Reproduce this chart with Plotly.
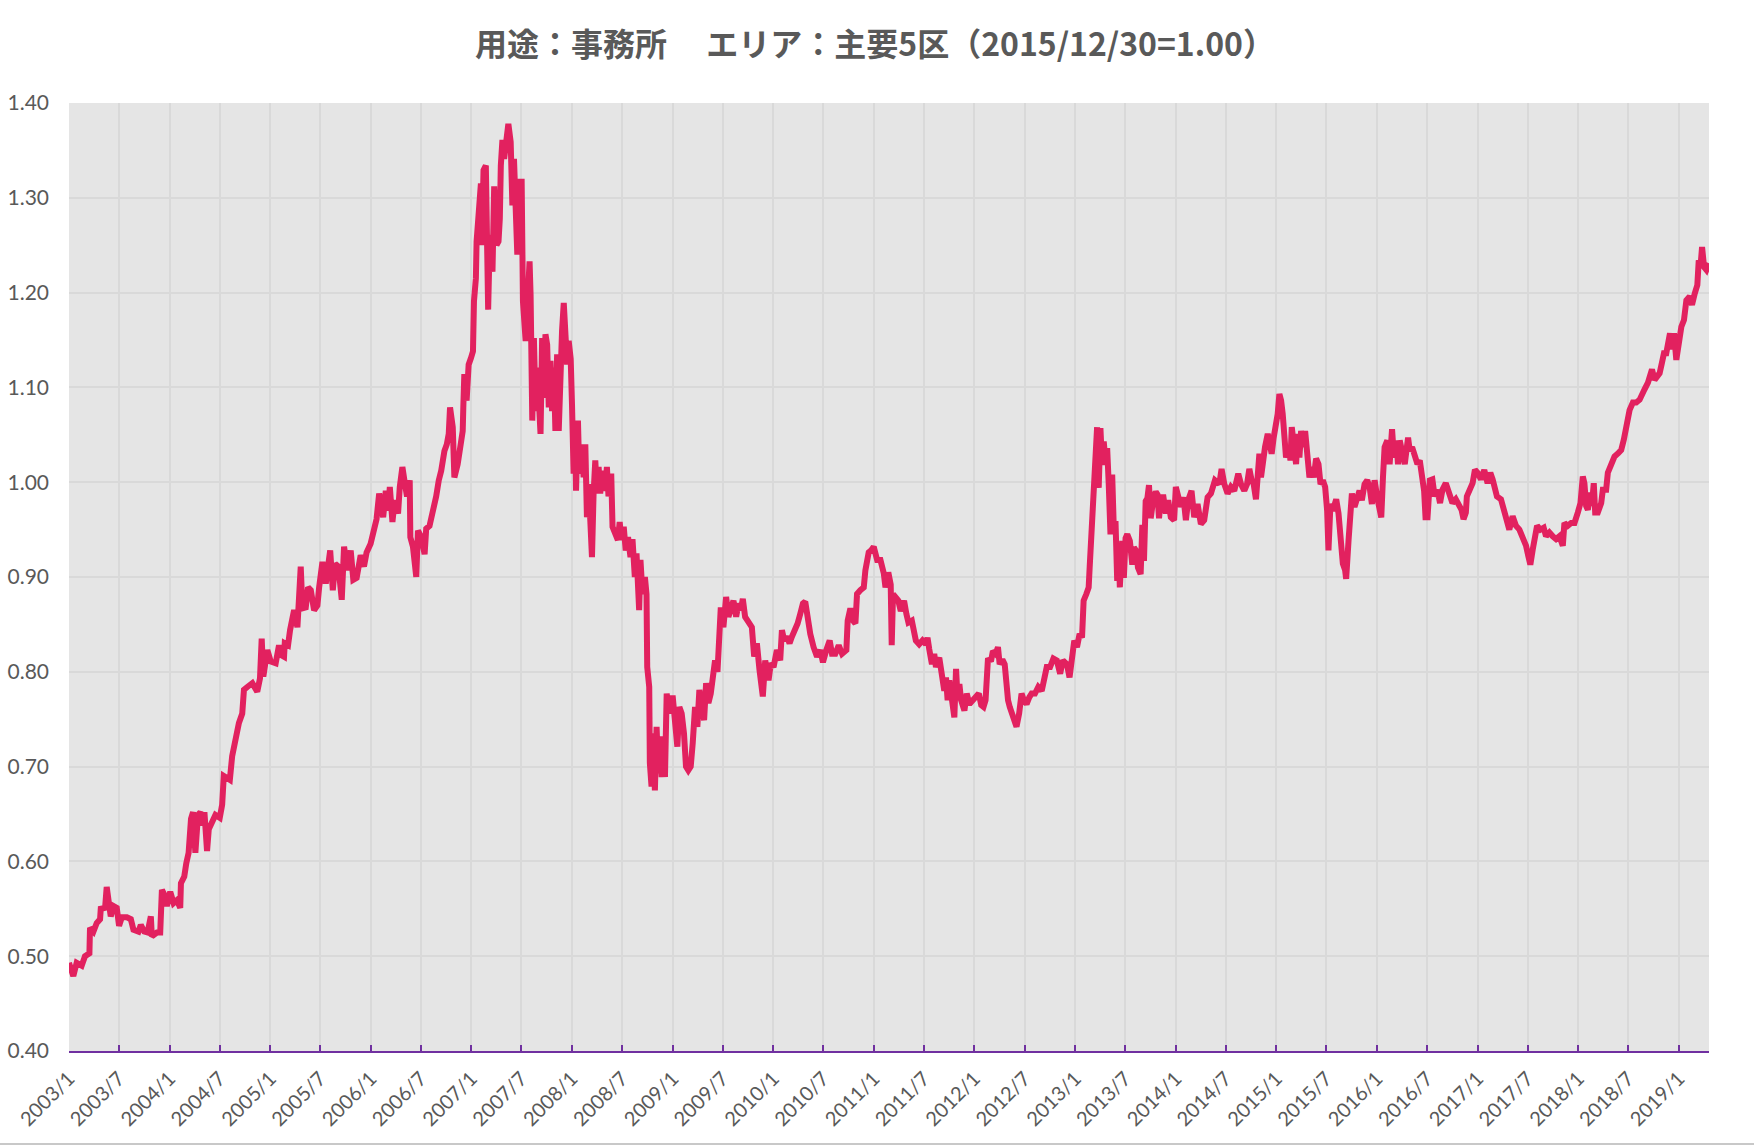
import pandas as pd
import plotly.graph_objects as go

# ---------------- data ----------------
chart_title = "用途：事務所　 エリア：主要5区（2015/12/30=1.00）"

# observation time as decimal year
obs_year = [
    2003.000, 2003.043, 2003.076, 2003.126, 2003.159, 2003.203, 2003.209, 2003.243, 2003.276, 2003.309,
    2003.316, 2003.359, 2003.375, 2003.402, 2003.415, 2003.442, 2003.475, 2003.498, 2003.525, 2003.575,
    2003.615, 2003.641, 2003.691, 2003.714, 2003.748, 2003.781, 2003.814, 2003.824, 2003.874, 2003.907,
    2003.924, 2003.957, 2003.973, 2004.007, 2004.040, 2004.073, 2004.106, 2004.113, 2004.146, 2004.166,
    2004.189, 2004.213, 2004.233, 2004.256, 2004.282, 2004.306, 2004.332, 2004.346, 2004.372, 2004.389,
    2004.422, 2004.455, 2004.498, 2004.522, 2004.538, 2004.565, 2004.598, 2004.621, 2004.638, 2004.671,
    2004.688, 2004.721, 2004.738, 2004.771, 2004.821, 2004.870, 2004.897, 2004.914, 2004.930, 2004.970,
    2005.003, 2005.053, 2005.086, 2005.103, 2005.136, 2005.143, 2005.176, 2005.196, 2005.219, 2005.236,
    2005.269, 2005.276, 2005.302, 2005.319, 2005.352, 2005.375, 2005.402, 2005.435, 2005.468, 2005.485,
    2005.518, 2005.551, 2005.568,
    2005.595, 2005.621, 2005.644, 2005.677, 2005.710, 2005.733, 2005.766, 2005.799, 2005.825, 2005.858,
    2005.898, 2005.931, 2005.957, 2005.997, 2006.030, 2006.056, 2006.082, 2006.105, 2006.122, 2006.148,
    2006.171, 2006.188, 2006.214, 2006.237, 2006.270, 2006.287, 2006.313, 2006.336, 2006.359, 2006.386,
    2006.392, 2006.418, 2006.451, 2006.468, 2006.501, 2006.534, 2006.550, 2006.583, 2006.616, 2006.649,
    2006.675, 2006.699, 2006.731, 2006.755, 2006.774, 2006.787, 2006.814, 2006.830, 2006.863, 2006.886,
    2006.913, 2006.919, 2006.929, 2006.952, 2006.972, 2006.995, 2007.015, 2007.025, 2007.044, 2007.051,
    2007.071, 2007.094, 2007.104, 2007.120, 2007.143, 2007.150, 2007.166, 2007.183, 2007.209, 2007.226,
    2007.249, 2007.269, 2007.282, 2007.292, 2007.308, 2007.325, 2007.341, 2007.367, 2007.390, 2007.407,
    2007.423, 2007.440, 2007.456, 2007.473, 2007.489, 2007.499, 2007.512, 2007.539, 2007.555, 2007.578,
    2007.588, 2007.605, 2007.621, 2007.638, 2007.654, 2007.671, 2007.687, 2007.703, 2007.720, 2007.736,
    2007.753, 2007.769, 2007.786, 2007.802, 2007.819, 2007.835, 2007.852, 2007.868, 2007.885, 2007.901,
    2007.918, 2007.934, 2007.951, 2007.967, 2007.987, 2008.000, 2008.016, 2008.033, 2008.040, 2008.059,
    2008.072, 2008.099, 2008.115, 2008.132, 2008.148, 2008.165, 2008.181, 2008.198, 2008.214, 2008.231,
    2008.247, 2008.264, 2008.280, 2008.297, 2008.329, 2008.346, 2008.362, 2008.389, 2008.402, 2008.428,
    2008.455,
    2008.473, 2008.490, 2008.513, 2008.533, 2008.556, 2008.580, 2008.600, 2008.623, 2008.640, 2008.666,
    2008.679, 2008.699, 2008.723, 2008.739, 2008.746, 2008.766, 2008.772, 2008.789, 2008.806, 2008.822,
    2008.839, 2008.855, 2008.872, 2008.889, 2008.905, 2008.922, 2008.939, 2008.965, 2008.998, 2009.022,
    2009.045, 2009.065, 2009.088, 2009.111, 2009.131, 2009.154, 2009.178, 2009.198, 2009.221, 2009.244,
    2009.264, 2009.287, 2009.311, 2009.331, 2009.354, 2009.377, 2009.397, 2009.420, 2009.444, 2009.463,
    2009.477, 2009.503, 2009.530, 2009.553, 2009.576, 2009.603, 2009.630, 2009.653, 2009.676, 2009.696,
    2009.719, 2009.752, 2009.786, 2009.809, 2009.836, 2009.862, 2009.885, 2009.895, 2009.919, 2009.952,
    2009.975, 2010.002, 2010.035, 2010.068, 2010.085, 2010.108, 2010.135, 2010.161, 2010.184, 2010.218,
    2010.241, 2010.267, 2010.294, 2010.317, 2010.334, 2010.367, 2010.400, 2010.434, 2010.467, 2010.493,
    2010.527, 2010.560, 2010.583, 2010.616, 2010.650, 2010.683, 2010.726, 2010.739, 2010.766, 2010.792,
    2010.816, 2010.832, 2010.865, 2010.899, 2010.915, 2010.932, 2010.948, 2010.972, 2010.998, 2011.032,
    2011.065, 2011.098, 2011.115, 2011.138,
    2011.143, 2011.167, 2011.177, 2011.190, 2011.217, 2011.243, 2011.267, 2011.300, 2011.323, 2011.343,
    2011.377, 2011.400, 2011.417, 2011.450, 2011.483, 2011.517, 2011.533, 2011.550, 2011.577, 2011.600,
    2011.617, 2011.650, 2011.667, 2011.683, 2011.700, 2011.717, 2011.733, 2011.750, 2011.767, 2011.800,
    2011.817, 2011.833, 2011.850, 2011.867, 2011.900, 2011.923, 2011.950, 2011.983, 2012.017, 2012.043,
    2012.067, 2012.090, 2012.110, 2012.117, 2012.133, 2012.167, 2012.183, 2012.210, 2012.233, 2012.250,
    2012.277, 2012.300, 2012.317, 2012.333, 2012.350, 2012.377, 2012.400, 2012.417, 2012.443, 2012.467,
    2012.490, 2012.517, 2012.543, 2012.567, 2012.600, 2012.633, 2012.667, 2012.700, 2012.717, 2012.750,
    2012.783, 2012.817, 2012.850, 2012.877, 2012.917, 2012.943, 2012.967, 2012.990, 2013.017, 2013.043,
    2013.067, 2013.083, 2013.110, 2013.133, 2013.143, 2013.157, 2013.177, 2013.183, 2013.200, 2013.217,
    2013.233, 2013.250, 2013.267, 2013.283, 2013.300, 2013.317, 2013.333, 2013.350, 2013.367, 2013.383,
    2013.400, 2013.417, 2013.433, 2013.443, 2013.467, 2013.483, 2013.500, 2013.517, 2013.543, 2013.567,
    2013.583, 2013.610, 2013.623, 2013.650, 2013.667, 2013.683, 2013.700, 2013.717, 2013.733, 2013.750,
    2013.777, 2013.800, 2013.817, 2013.833,
    2013.850, 2013.877, 2013.900, 2013.924, 2013.950, 2013.983, 2014.000, 2014.023, 2014.050, 2014.076,
    2014.100, 2014.123, 2014.156, 2014.183, 2014.216, 2014.249, 2014.282, 2014.316, 2014.349, 2014.389,
    2014.432, 2014.455, 2014.482, 2014.515, 2014.548, 2014.581, 2014.621, 2014.648, 2014.681, 2014.708,
    2014.731, 2014.754, 2014.774, 2014.797, 2014.814, 2014.831, 2014.847, 2014.864, 2014.887, 2014.914,
    2014.930, 2014.953, 2014.973, 2014.997, 2015.013, 2015.030, 2015.047, 2015.063, 2015.080, 2015.096,
    2015.120, 2015.140, 2015.153, 2015.173, 2015.196, 2015.213, 2015.229, 2015.246, 2015.272, 2015.286,
    2015.306, 2015.329, 2015.352, 2015.372, 2015.395, 2015.419, 2015.439, 2015.462, 2015.485, 2015.505,
    2015.518, 2015.538, 2015.561, 2015.595, 2015.618, 2015.638, 2015.661, 2015.684, 2015.694, 2015.718,
    2015.738, 2015.751, 2015.777, 2015.804, 2015.827, 2015.850, 2015.877, 2015.904, 2015.927, 2015.950,
    2015.977, 2016.003, 2016.027, 2016.043, 2016.060, 2016.076, 2016.103, 2016.126, 2016.150, 2016.169,
    2016.193, 2016.209, 2016.226, 2016.249, 2016.276, 2016.309, 2016.326, 2016.349, 2016.375, 2016.402,
    2016.425, 2016.449, 2016.468, 2016.482, 2016.502, 2016.525,
    2016.550, 2016.573, 2016.600, 2016.626, 2016.650, 2016.683, 2016.716, 2016.749, 2016.782, 2016.816,
    2016.839, 2016.859, 2016.882, 2016.892, 2016.915, 2016.949, 2016.972, 2016.998, 2017.032, 2017.065,
    2017.098, 2017.125, 2017.148, 2017.164, 2017.191, 2017.231, 2017.264, 2017.291, 2017.314, 2017.347,
    2017.380, 2017.414, 2017.447, 2017.480, 2017.503, 2017.523, 2017.547, 2017.563, 2017.590, 2017.623,
    2017.656, 2017.679, 2017.713, 2017.746, 2017.779, 2017.812, 2017.846, 2017.862, 2017.895, 2017.929,
    2017.962, 2017.995, 2018.022, 2018.045, 2018.061, 2018.078, 2018.095, 2018.121, 2018.135, 2018.154,
    2018.168, 2018.194, 2018.228, 2018.244, 2018.277, 2018.294, 2018.327, 2018.360, 2018.400, 2018.427,
    2018.453, 2018.467, 2018.487, 2018.510, 2018.543, 2018.576, 2018.610, 2018.633, 2018.659, 2018.693,
    2018.719, 2018.733, 2018.759, 2018.786, 2018.809, 2018.832, 2018.852, 2018.875, 2018.899, 2018.912,
    2018.932, 2018.952, 2018.975, 2018.992, 2019.008, 2019.025, 2019.051, 2019.075, 2019.108, 2019.131,
    2019.158, 2019.184, 2019.198, 2019.218, 2019.231, 2019.251, 2019.274, 2019.290, 2019.300,
]

index_value = [
    0.493, 0.479, 0.493, 0.490, 0.500, 0.503, 0.530, 0.526, 0.535, 0.539,
    0.550, 0.551, 0.573, 0.553, 0.542, 0.553, 0.551, 0.532, 0.541, 0.541,
    0.539, 0.528, 0.526, 0.533, 0.526, 0.525, 0.542, 0.521, 0.525, 0.525,
    0.570, 0.563, 0.553, 0.568, 0.556, 0.559, 0.551, 0.577, 0.584, 0.598,
    0.609, 0.645, 0.652, 0.609, 0.649, 0.652, 0.638, 0.652, 0.611, 0.634,
    0.641, 0.649, 0.646, 0.660, 0.690, 0.688, 0.686, 0.711, 0.721, 0.735,
    0.746, 0.756, 0.781, 0.784, 0.788, 0.779, 0.793, 0.835, 0.795, 0.823,
    0.811, 0.809, 0.828, 0.818, 0.816, 0.830, 0.828, 0.844, 0.858, 0.865,
    0.847, 0.868, 0.911, 0.867, 0.868, 0.889, 0.886, 0.865, 0.870, 0.889,
    0.916, 0.893, 0.907,
    0.928, 0.886, 0.914, 0.911, 0.876, 0.932, 0.907, 0.928, 0.897, 0.899,
    0.923, 0.911, 0.926, 0.935, 0.953, 0.961, 0.988, 0.972, 0.963, 0.991,
    0.970, 0.995, 0.958, 0.981, 0.967, 0.995, 1.016, 1.000, 0.985, 1.002,
    0.942, 0.932, 0.900, 0.949, 0.942, 0.924, 0.951, 0.954, 0.967, 0.985,
    1.002, 1.012, 1.033, 1.040, 1.051, 1.079, 1.058, 1.005, 1.019, 1.040,
    1.054, 1.079, 1.114, 1.086, 1.124, 1.131, 1.138, 1.191, 1.215, 1.254,
    1.292, 1.315, 1.250, 1.329, 1.334, 1.240, 1.182, 1.261, 1.222, 1.312,
    1.250, 1.254, 1.278, 1.334, 1.361, 1.341, 1.362, 1.378, 1.359, 1.292,
    1.341, 1.292, 1.240, 1.320, 1.243, 1.320, 1.191, 1.149, 1.180, 1.233,
    1.198, 1.065, 1.152, 1.075, 1.121, 1.065, 1.051, 1.152, 1.089, 1.156,
    1.145, 1.079, 1.128, 1.075, 1.121, 1.054, 1.135, 1.054, 1.124, 1.160,
    1.189, 1.163, 1.124, 1.149, 1.130, 1.082, 1.009, 1.040, 0.991, 1.065,
    1.009, 1.040, 1.005, 1.040, 0.963, 0.998, 0.942, 0.921, 0.988, 1.023,
    0.988, 1.016, 0.988, 1.012, 0.991, 1.016, 0.985, 1.009, 0.953, 0.946,
    0.939,
    0.958, 0.939, 0.953, 0.928, 0.942, 0.921, 0.940, 0.900, 0.925, 0.865,
    0.918, 0.882, 0.900, 0.882, 0.805, 0.784, 0.704, 0.679, 0.735, 0.675,
    0.742, 0.693, 0.732, 0.689, 0.732, 0.689, 0.777, 0.756, 0.775, 0.749,
    0.721, 0.763, 0.756, 0.735, 0.700, 0.696, 0.700, 0.725, 0.763, 0.742,
    0.781, 0.763, 0.749, 0.788, 0.767, 0.777, 0.798, 0.812, 0.800, 0.837,
    0.868, 0.847, 0.879, 0.858, 0.868, 0.875, 0.858, 0.872, 0.865, 0.877,
    0.858, 0.851, 0.847, 0.816, 0.830, 0.802, 0.784, 0.774, 0.812, 0.791,
    0.809, 0.805, 0.823, 0.812, 0.844, 0.833, 0.837, 0.830, 0.837, 0.844,
    0.851, 0.861, 0.872, 0.874, 0.858, 0.840, 0.826, 0.816, 0.823, 0.810,
    0.823, 0.833, 0.819, 0.819, 0.828, 0.819, 0.823, 0.854, 0.867, 0.854,
    0.851, 0.882, 0.886, 0.889, 0.907, 0.921, 0.926, 0.928, 0.932, 0.918,
    0.918, 0.904, 0.889, 0.900,
    0.905, 0.892, 0.828, 0.882, 0.878, 0.875, 0.864, 0.875, 0.861, 0.852,
    0.854, 0.843, 0.833, 0.829, 0.833, 0.829, 0.836, 0.824, 0.808, 0.819,
    0.805, 0.815, 0.805, 0.791, 0.780, 0.794, 0.770, 0.791, 0.777, 0.752,
    0.803, 0.770, 0.787, 0.770, 0.759, 0.777, 0.766, 0.770, 0.772, 0.777,
    0.765, 0.763, 0.770, 0.791, 0.812, 0.813, 0.822, 0.819, 0.826, 0.808,
    0.813, 0.808, 0.780, 0.770, 0.763, 0.754, 0.749, 0.742, 0.756, 0.777,
    0.770, 0.766, 0.773, 0.777, 0.777, 0.784, 0.780, 0.794, 0.805, 0.805,
    0.814, 0.812, 0.798, 0.812, 0.808, 0.794, 0.815, 0.833, 0.826, 0.840,
    0.836, 0.875, 0.882, 0.889, 0.910, 0.938, 0.952, 0.980, 0.997, 1.058,
    0.994, 1.057, 1.018, 1.043, 1.022, 1.036, 0.997, 0.945, 1.008, 0.952,
    0.959, 0.896, 0.927, 0.889, 0.938, 0.899, 0.941, 0.945, 0.938, 0.913,
    0.931, 0.927, 0.910, 0.903, 0.955, 0.917, 0.980, 0.983, 0.997, 0.962,
    0.983, 0.990, 0.987, 0.962,
    0.984, 0.984, 0.967, 0.981, 0.963, 0.960, 0.995, 0.984, 0.974, 0.984,
    0.960, 0.981, 0.991, 0.963, 0.977, 0.956, 0.960, 0.984, 0.988, 1.002,
    0.998, 1.014, 0.998, 0.988, 0.995, 0.991, 1.009, 0.998, 0.991, 0.998,
    1.014, 1.002, 0.998, 0.982, 1.002, 1.030, 1.005, 1.026, 1.037, 1.051,
    1.037, 1.030, 1.047, 1.058, 1.072, 1.093, 1.086, 1.072, 1.054, 1.026,
    1.037, 1.023, 1.058, 1.037, 1.019, 1.051, 1.026, 1.054, 1.037, 1.054,
    1.026, 1.005, 1.016, 1.005, 1.025, 1.019, 0.998, 1.002, 0.995, 0.970,
    0.928, 0.977, 0.970, 0.982, 0.967, 0.942, 0.914, 0.907, 0.898, 0.939,
    0.963, 0.988, 0.974, 0.984, 0.991, 0.981, 0.998, 1.002, 0.995, 0.977,
    1.002, 0.984, 0.970, 0.963, 1.005, 1.037, 1.044, 1.019, 1.056, 1.026,
    1.044, 1.019, 1.044, 1.030, 1.019, 1.047, 1.033, 1.037, 1.026, 1.019,
    1.023, 1.009, 0.991, 0.963, 0.963, 1.002,
    1.003, 0.985, 0.992, 0.978, 0.992, 0.999, 0.989, 0.978, 0.982, 0.975,
    0.971, 0.961, 0.968, 0.985, 0.992, 0.999, 1.013, 1.010, 1.003, 1.013,
    0.999, 1.010, 1.003, 0.996, 0.985, 0.982, 0.968, 0.961, 0.950, 0.964,
    0.954, 0.950, 0.943, 0.933, 0.922, 0.913, 0.929, 0.943, 0.954, 0.950,
    0.952, 0.943, 0.947, 0.943, 0.940, 0.943, 0.933, 0.957, 0.954, 0.957,
    0.957, 0.968, 0.978, 1.006, 0.999, 0.975, 0.971, 0.989, 0.975, 0.999,
    0.968, 0.968, 0.978, 0.992, 0.992, 1.010, 1.017, 1.027, 1.031, 1.034,
    1.045, 1.052, 1.066, 1.076, 1.084, 1.084, 1.087, 1.094, 1.098, 1.105,
    1.112, 1.119, 1.108, 1.112, 1.115, 1.126, 1.136, 1.136, 1.147, 1.157,
    1.140, 1.157, 1.129, 1.140, 1.157, 1.164, 1.171, 1.192, 1.196, 1.187,
    1.199, 1.208, 1.234, 1.231, 1.248, 1.227, 1.224, 1.231, 1.231,
]

tick_labels = [
    "2003/1", "2003/7", "2004/1", "2004/7", "2005/1", "2005/7", "2006/1", "2006/7",
    "2007/1", "2007/7", "2008/1", "2008/7", "2009/1", "2009/7", "2010/1", "2010/7",
    "2011/1", "2011/7", "2012/1", "2012/7", "2013/1", "2013/7", "2014/1", "2014/7",
    "2015/1", "2015/7", "2016/1", "2016/7", "2017/1", "2017/7", "2018/1", "2018/7",
    "2019/1",
]

y_ticks = [0.40, 0.50, 0.60, 0.70, 0.80, 0.90, 1.00, 1.10, 1.20, 1.30, 1.40]

# ---------------- helpers ----------------
def decimal_year_to_ts(t):
    y = int(t)
    start = pd.Timestamp(year=y, month=1, day=1)
    end = pd.Timestamp(year=y + 1, month=1, day=1)
    return start + (end - start) * (t - y)

dates = [decimal_year_to_ts(t) for t in obs_year]
tick_vals = [pd.Timestamp(year=int(s.split("/")[0]), month=int(s.split("/")[1]), day=1) for s in tick_labels]

LINE = "#e2215f"
TXT = "#595959"
GRID = "#d9d9d9"
AXIS = "#7030a0"
FONT = "Lato, 'Noto Sans', sans-serif"

fig = go.Figure()
fig.add_trace(go.Scatter(
    x=dates, y=index_value, mode="lines",
    line=dict(color=LINE, width=6),
    hoverinfo="skip", showlegend=False,
))

fig.update_layout(
    width=1754, height=1146,
    margin=dict(l=69, r=45, t=103, b=95, pad=0),
    paper_bgcolor="white",
    plot_bgcolor="#e5e5e5",
    font=dict(family=FONT, color=TXT, size=20),
    title=dict(
        text="<b>" + chart_title + "</b>",
        x=862 / 1754, xanchor="center", xref="paper",
        y=1 - 45 / 1146, yanchor="middle", yref="container",
        font=dict(family="'Noto Sans CJK JP', sans-serif", size=32, color=TXT),
    ),
    xaxis=dict(
        type="date",
        range=[dates[0], dates[-1]],
        tickmode="array", tickvals=tick_vals, ticktext=tick_labels,
        tickangle=-45,
        tickfont=dict(family=FONT, size=20, color=TXT),
        showgrid=True, gridcolor=GRID, gridwidth=2,
        showline=True, linecolor=AXIS, linewidth=2,
        ticks="inside", ticklen=6, tickwidth=2, tickcolor=AXIS,
        ticklabelstandoff=6,
        zeroline=False, fixedrange=True, automargin=False,
    ),
    yaxis=dict(
        range=[0.40, 1.40],
        tickmode="array", tickvals=y_ticks, ticktext=[f"{v:.2f}" for v in y_ticks],
        tickfont=dict(family=FONT, size=21, color=TXT),
        showgrid=True, gridcolor=GRID, gridwidth=2,
        showline=False, ticks="", ticklabelstandoff=19,
        zeroline=False, fixedrange=True, automargin=False,
    ),
)

# thin chart-area border at the bottom
fig.add_shape(type="line", xref="paper", yref="paper",
              x0=-69 / 1640, x1=(1754 - 69) / 1640, y0=-(95 - 2) / 948, y1=-(95 - 2) / 948,
              line=dict(color="#c8c8c8", width=2))

fig.write_html("out.html")
